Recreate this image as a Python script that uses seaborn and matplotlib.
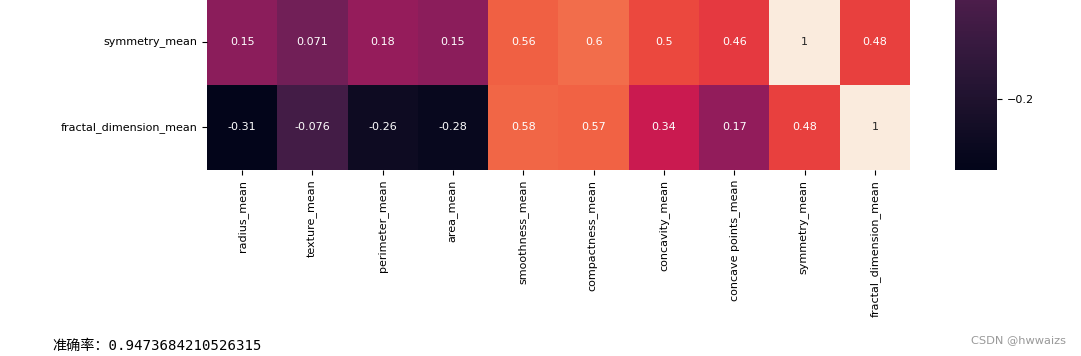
import numpy as np
import pandas as pd
import matplotlib
matplotlib.use("Agg")
import matplotlib.pyplot as plt
import seaborn as sns

# columns of the correlation matrix (only the last two rows are in view)
features = ["radius_mean", "texture_mean", "perimeter_mean", "area_mean",
            "smoothness_mean", "compactness_mean", "concavity_mean",
            "concave points_mean", "symmetry_mean", "fractal_dimension_mean"]
rows = ["symmetry_mean", "fractal_dimension_mean"]

symmetry_corr = [0.15, 0.071, 0.18, 0.15, 0.56, 0.6, 0.5, 0.46, 1, 0.48]
fractal_corr = [-0.31, -0.076, -0.26, -0.28, 0.58, 0.57, 0.34, 0.17, 0.48, 1]
cbar_ticks = [-0.2]

accuracy = 0.9473684210526315

corr_df = pd.DataFrame([symmetry_corr, fractal_corr], index=rows, columns=features)

plt.rcParams["font.size"] = 8

fig = plt.figure(figsize=(10.81, 3.56), dpi=100)
ax = fig.add_axes([0.1915, 0.5225, 0.6503, 0.4775])
# the colorbar is much taller than the visible window, like the cropped original
cbar_ax = fig.add_axes([0.8834, 0.5225, 0.0389, 2.388])

sns.heatmap(corr_df, annot=True, ax=ax, cbar_ax=cbar_ax,
            cbar_kws={"ticks": cbar_ticks})

ax.set_xticklabels(ax.get_xticklabels(), rotation=90)
ax.set_yticklabels(ax.get_yticklabels(), rotation=0)

fig.text(0.048, 0.028, "准确率：" + str(accuracy), fontsize=10.2,
         family=["DejaVu Sans Mono", "Noto Sans CJK SC"], va="center")
fig.text(0.986, 0.045, "CSDN @hwwaizs", fontsize=8.2, color="#999999",
         ha="right", va="center")

plt.savefig("out.png", dpi=100)
